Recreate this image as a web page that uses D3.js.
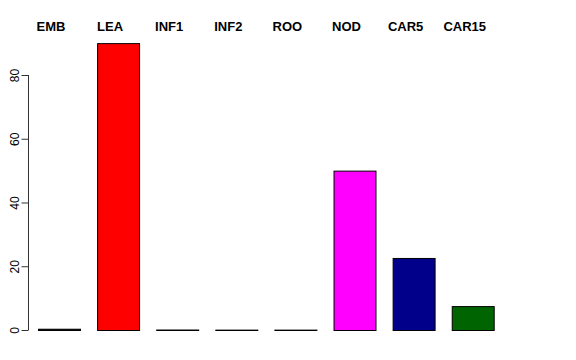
<!DOCTYPE html>
<html lang="en"><head>
<meta charset="utf-8">
<title>barplot</title>
<script src="https://cdnjs.cloudflare.com/ajax/libs/d3/7.8.5/d3.min.js"></script>
<style>
  body { margin: 0; background: #fff; }
  text { font-family: "Liberation Sans", Arial, sans-serif; }
</style>
</head>
<body>
<div id="chart"></div>
<script>
var categories = ["EMB", "LEA", "INF1", "INF2", "ROO", "NOD", "CAR5", "CAR15"];
var values = [0.4, 90, 0.15, 0.12, 0.12, 50, 22.6, 7.5];
var colors = ["#000000", "#ff0000", "#2e6b2e", "#25255e", "#4a1c1c", "#ff00ff", "#00008b", "#006400"];
var yTicks = [0, 20, 40, 60, 80];

var width = 576, height = 360;
var svg = d3.select("#chart").append("svg")
    .attr("width", width)
    .attr("height", height);

var x = d3.scaleBand()
    .domain(categories)
    .range([38, 493.7])
    .paddingInner(0.29)
    .paddingOuter(0);

var y = d3.scaleLinear()
    .domain([0, 80])
    .range([330, 75]);

// bars
svg.append("g").selectAll("rect")
    .data(categories)
    .enter()
    .append("rect")
    .attr("x", function(d) { return x(d) + 0.5; })
    .attr("width", x.bandwidth())
    .attr("y", function(d, i) { return y(values[i]) + 0.5; })
    .attr("height", function(d, i) { return y(0) - y(values[i]); })
    .attr("fill", function(d, i) { return colors[i]; })
    .attr("stroke", "#000")
    .attr("stroke-width", 1);

// y axis, R style
var yAxis = d3.axisLeft(y).tickValues(yTicks).tickSize(7).tickPadding(4);
var gy = svg.append("g")
    .attr("transform", "translate(28.5,0)")
    .call(yAxis);
gy.select(".domain").attr("stroke", "#333").attr("d", "M0," + y(80) + "V" + y(0));
gy.selectAll(".tick line").attr("stroke", "#333");
gy.selectAll(".tick text")
    .attr("font-size", 12)
    .attr("fill", "#000")
    .attr("text-anchor", "middle")
    .attr("dy", null)
    .attr("x", null)
    .attr("transform", "translate(-10,0) rotate(-90)");

// category labels along the top
svg.append("g").selectAll("text")
    .data(categories)
    .enter()
    .append("text")
    .attr("x", function(d) { return x(d) + x.bandwidth() / 2 - 8; })
    .attr("y", 31)
    .attr("text-anchor", "middle")
    .attr("font-size", 13)
    .attr("font-weight", "bold")
    .text(function(d) { return d; });
</script>
</body></html>
